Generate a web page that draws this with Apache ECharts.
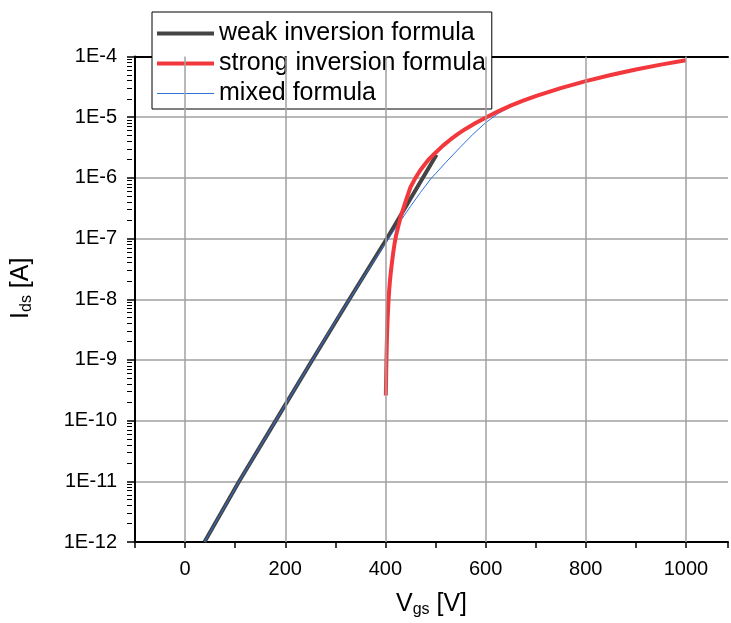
<!DOCTYPE html>
<html style="height: 100%">
   <head>
       <meta charset="utf-8">
   </head>
   <body style="height: 100%; margin: 0">
       <div id="container" style="width: 731px; height: 623px"></div>
       <script type="text/javascript" src="https://cdn.jsdelivr.net/npm/echarts@6/dist/echarts.min.js"></script>
       <script type="text/javascript">
// values
var weakV = [38.7, 108, 181, 254, 328, 403, 502];
var weakI = [1e-12, 1e-11, 1e-10, 1e-9, 1e-8, 1e-7, 2.4e-6];

var strongV = [400.8, 401.2, 401.5, 402, 402.5, 403, 404, 405, 406, 407.5, 409, 411, 413, 415.5, 418, 421, 425, 430, 435, 442, 450, 460, 470, 485, 500,
               515, 530, 545, 560, 580, 600, 625, 650, 675, 700, 750, 800, 850, 900, 950, 1000];
var strongI = [2.6e-10, 4e-10, 6e-10, 1e-9, 1.5e-9, 2.2e-9, 4e-9, 6.2e-9, 9e-9, 1.4e-8, 2e-8, 2.9e-8, 4e-8, 5.8e-8, 8e-8, 1.1e-7, 1.5e-7, 2.2e-7, 3e-7, 4.5e-7, 7e-7, 1e-6, 1.35e-6, 1.95e-6, 2.6e-6,
               3.4e-6, 4.3e-6, 5.3e-6, 6.4e-6, 8e-6, 9.8e-6, 1.25e-5, 1.55e-5, 1.87e-5, 2.22e-5, 3.02e-5, 3.93e-5, 4.95e-5, 6.1e-5, 7.35e-5, 8.7e-5];

var mixedV = [38.7, 108, 181, 254, 280, 300, 332, 360, 380, 407, 430, 450, 470, 492, 500,
              520, 550, 575, 600, 625, 650, 675, 700, 750, 800, 850, 900, 950, 1000];
var mixedI = [1e-12, 1e-11, 1e-10, 1e-9, 2.29e-9, 4.27e-9, 1.12e-8, 2.6e-8, 4.68e-8, 1.02e-7, 1.95e-7, 3.39e-7, 5.75e-7, 1e-6, 1.17e-6,
              1.78e-6, 3.24e-6, 5.25e-6, 8.1e-6, 1.15e-5, 1.48e-5, 1.84e-5, 2.21e-5, 3.02e-5, 3.93e-5, 4.96e-5, 6.12e-5, 7.37e-5, 8.75e-5];

var seriesNames = ['weak inversion formula', 'strong inversion formula', 'mixed formula'];
var xGridValues = [0, 200, 400, 600, 800, 1000];
var yTickLabels = ['1E-12', '1E-11', '1E-10', '1E-9', '1E-8', '1E-7', '1E-6', '1E-5', '1E-4'];
var minorMantissas = [2, 3, 4, 5, 6, 7, 8, 9];

var xMin = -100, xMax = 1084;
var gridLeft = 135, chartWidth = 731;

function pairs(xs, ys) {
    return xs.map(function (x, i) { return [x, ys[i]]; });
}

// log minor ticks on the left axis: 2..9 times each decade
var minorTickValues = [];
yTickLabels.slice(0, -1).forEach(function (lbl) {
    var base = parseFloat(lbl);
    minorMantissas.forEach(function (m) { minorTickValues.push(m * base); });
});

var dom = document.getElementById("container");
var myChart = echarts.init(dom);
var font = 'Liberation Sans, Arial, sans-serif';
var colors = ['#444444', '#f2383c', '#2f72dc'];

var titleRich = {
    a: { fontSize: 25, fontFamily: font, color: '#000', lineHeight: 28 },
    s: { fontSize: 16, fontFamily: font, color: '#000', lineHeight: 16, verticalAlign: 'bottom' }
};

var option = {
    animation: false,
    backgroundColor: '#ffffff',
    textStyle: { fontFamily: font },
    grid: { left: gridLeft, right: 0, top: 56.5, bottom: 80.5 },
    legend: {
        orient: 'vertical',
        left: 152,
        top: 12,
        padding: [9, 6, 3, 3],
        itemGap: 5,
        itemWidth: 57,
        itemHeight: 14,
        backgroundColor: '#ffffff',
        borderColor: '#000000',
        borderWidth: 1,
        borderRadius: 0,
        textStyle: { fontSize: 25, color: '#000', fontFamily: font, lineHeight: 25 },
        data: [
            { name: seriesNames[0], itemStyle: { opacity: 0 }, lineStyle: { width: 4, color: colors[0] } },
            { name: seriesNames[1], itemStyle: { opacity: 0 }, lineStyle: { width: 4, color: colors[1] } },
            { name: seriesNames[2], itemStyle: { opacity: 0 }, lineStyle: { width: 1, color: colors[2] } }
        ]
    },
    xAxis: [{
        type: 'value',
        min: xMin,
        max: xMax,
        interval: 100,
        name: '{a|V}{s|gs}{a| [V]}',
        nameLocation: 'middle',
        nameGap: 48,
        nameTextStyle: { color: '#000', rich: titleRich },
        axisLine: { onZero: false, lineStyle: { color: '#000', width: 2 } },
        axisTick: { show: true, inside: false, length: 6, lineStyle: { color: '#000', width: 1.5 } },
        axisLabel: {
            margin: 17,
            fontSize: 20,
            color: '#000',
            fontFamily: font,
            formatter: function (v) {
                return xGridValues.indexOf(v) >= 0 ? String(v) : '';
            }
        },
        splitLine: { show: false }
    }, {
        type: 'value',
        position: 'top',
        min: xMin,
        max: xMax,
        interval: 100,
        axisLine: { show: true, onZero: false, lineStyle: { color: '#000', width: 2 } },
        axisTick: { show: false },
        axisLabel: { show: false },
        splitLine: { show: false }
    }],
    yAxis: [{
        type: 'log',
        logBase: 10,
        min: 1e-12,
        max: 1e-4,
        name: '{a|I}{s|ds}{a| [A]}',
        nameLocation: 'middle',
        nameGap: 100,
        nameRotate: 90,
        nameTextStyle: { color: '#000', rich: titleRich, padding: [0, 0, 0, 22] },
        axisLine: { onZero: false, lineStyle: { color: '#000', width: 2 } },
        axisTick: { show: true, inside: false, length: 8, lineStyle: { color: '#000', width: 1.5 } },
        axisLabel: {
            margin: 18,
            fontSize: 20,
            color: '#000',
            fontFamily: font,
            formatter: function (v) {
                var k = Math.round(Math.log(v) / Math.LN10) + 12;
                return yTickLabels[k] || '';
            }
        },
        splitLine: { show: true, lineStyle: { color: '#a0a0a0', width: 1.5 } }
    }, {
        // carries only the log minor ticks; placed on the right and shifted back onto the left edge
        type: 'log',
        logBase: 10,
        min: 1e-12,
        max: 1e-4,
        position: 'right',
        offset: -(chartWidth - gridLeft),
        axisLine: { show: false, onZero: false },
        axisTick: {
            show: true, inside: true, length: 5,
            customValues: minorTickValues,
            lineStyle: { color: '#000', width: 1 }
        },
        axisLabel: { show: false },
        splitLine: { show: false }
    }],
    series: [{
        name: 'gridlines',
        type: 'line',
        data: [],
        z: 1,
        silent: true,
        markLine: {
            silent: true,
            symbol: ['none', 'none'],
            label: { show: false },
            lineStyle: { color: '#a0a0a0', width: 1.5, type: 'solid' },
            animation: false,
            data: xGridValues.map(function (v) { return { xAxis: v }; })
        }
    }, {
        name: seriesNames[0],
        type: 'line',
        data: pairs(weakV, weakI),
        showSymbol: false,
        symbol: 'none',
        z: 2,
        lineStyle: { color: colors[0], width: 4 },
        itemStyle: { color: colors[0] }
    }, {
        name: seriesNames[1],
        type: 'line',
        data: pairs(strongV, strongI),
        showSymbol: false,
        symbol: 'none',
        z: 4,
        lineStyle: { color: colors[1], width: 4, join: 'round' },
        itemStyle: { color: colors[1] }
    }, {
        name: seriesNames[2],
        type: 'line',
        data: pairs(mixedV, mixedI),
        showSymbol: false,
        symbol: 'none',
        z: 3,
        lineStyle: { color: colors[2], width: 1 },
        itemStyle: { color: colors[2] }
    }]
};

if (option && typeof option === "object") {
    myChart.setOption(option, true);
}
       </script>
   </body>
</html>
